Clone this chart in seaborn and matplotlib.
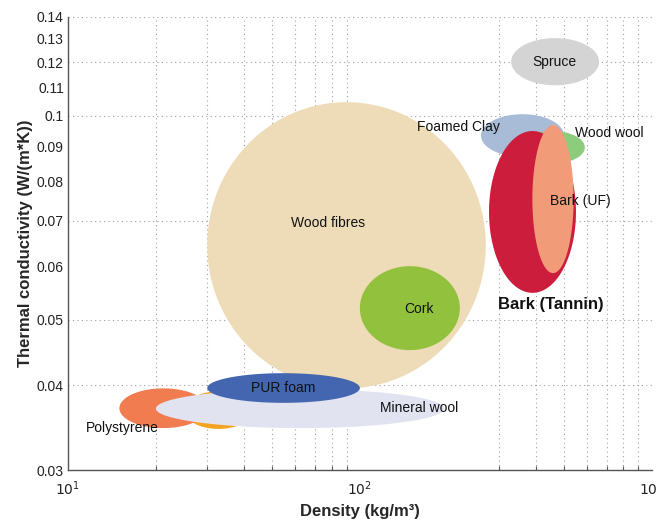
import numpy as np
import pandas as pd
import matplotlib
matplotlib.use("Agg")
import matplotlib.pyplot as plt
from matplotlib.ticker import FixedLocator, NullFormatter
import seaborn as sns

# Material property ranges: density (kg/m^3) and thermal conductivity (W/(m*K))
materials = ["Wood fibres", "Cork", "Spruce", "Foamed Clay", "Wood wool",
             "Bark (Tannin)", "Bark (UF)", "Hemp", "Polystyrene",
             "Mineral wool", "PUR foam"]
density_min = [30, 100, 330, 260, 350, 277, 390, 25, 15, 20, 30]
density_max = [270, 220, 660, 500, 590, 550, 540, 43, 30, 195, 100]
conduct_min = [0.0396, 0.0451, 0.111, 0.087, 0.085, 0.0548, 0.0586, 0.0345, 0.0346, 0.0346, 0.0377]
conduct_max = [0.1048, 0.0600, 0.1303, 0.1006, 0.095, 0.095, 0.097, 0.0392, 0.0396, 0.0395, 0.0417]
colors = ["#eedcb8", "#92c13e", "#d4d4d4", "#a8bcd8", "#8dcc7d",
          "#cc1e3c", "#f19b78", "#f5a320", "#f07c4f", "#e1e3f1", "#4465b0"]

# Label text and anchor positions (data coordinates)
label_text = ["Wood fibres", "Cork", "Spruce", "Foamed Clay", "Wood wool",
              "Bark (UF)", "Bark (Tannin)", "PUR foam", "Mineral wool", "Polystyrene"]
label_x = [77.7, 159, 465, 218, 713, 571, 451, 54.5, 159, 15.3]
label_y = [0.0695, 0.0519, 0.120, 0.0963, 0.0944, 0.0749, 0.0527, 0.0396, 0.0370, 0.0346]

y_ticks = [0.03, 0.04, 0.05, 0.06, 0.07, 0.08, 0.09, 0.10, 0.11, 0.12, 0.13, 0.14]
y_grid = [0.04, 0.05, 0.07, 0.10, 0.12, 0.14]
x_minor = [20, 30, 40, 50, 60, 70, 80, 90, 300, 400, 500, 600, 700, 800, 900]

sns.set_theme(style="white")
plt.rcParams["font.family"] = ["Liberation Sans", "DejaVu Sans"]

fig = plt.figure(figsize=(6.57, 5.23), dpi=100)
ax = fig.add_axes([0.1035, 0.1013, 0.8885, 0.8662])
ax.set_xscale("log")
ax.set_yscale("log")
ax.set_xlim(10, 1000)
ax.set_ylim(0.03, 0.14)

# Dotted reference grid
for xv in x_minor:
    ax.axvline(xv, color="#a0a0a0", lw=0.8, ls=(0, (1, 3)), zorder=0)
for yv in y_grid:
    ax.axhline(yv, color="#a0a0a0", lw=0.8, ls=(0, (1, 3)), zorder=0)

# Ellipses drawn in log-log space spanning each material's range
t = np.linspace(0, 2 * np.pi, 400)
rows = []
for name, dmin, dmax, kmin, kmax in zip(materials, density_min, density_max,
                                        conduct_min, conduct_max):
    cx = (np.log10(dmin) + np.log10(dmax)) / 2
    cy = (np.log10(kmin) + np.log10(kmax)) / 2
    a = (np.log10(dmax) - np.log10(dmin)) / 2
    b = (np.log10(kmax) - np.log10(kmin)) / 2
    rows.append(pd.DataFrame({"material": name,
                              "density": 10 ** (cx + a * np.cos(t)),
                              "conductivity": 10 ** (cy + b * np.sin(t))}))
outlines = pd.concat(rows, ignore_index=True)

for i, (name, col) in enumerate(zip(materials, colors)):
    d = outlines[outlines["material"] == name]
    ax.fill(d["density"], d["conductivity"], color=col, lw=0, zorder=2 + i)

for txt, lx, ly in zip(label_text, label_x, label_y):
    bold = txt == "Bark (Tannin)"
    ax.text(lx, ly, txt, ha="center", va="center", zorder=30,
            fontsize=12 if bold else 10, fontweight="bold" if bold else "normal",
            color="#111111")

# Axes styling
sns.despine(ax=ax)
for s in ["left", "bottom"]:
    ax.spines[s].set_color("#555555")
    ax.spines[s].set_linewidth(1.0)
ax.set_yticks(y_ticks)
ax.set_yticklabels([f"{v:g}" for v in y_ticks])
ax.yaxis.set_minor_locator(FixedLocator([]))
ax.set_xticks([10, 100, 1000])
ax.set_xticklabels([r"$10^1$", r"$10^2$", r"$10^3$"])
ax.xaxis.set_minor_locator(FixedLocator(x_minor))
ax.xaxis.set_minor_formatter(NullFormatter())
ax.tick_params(axis="both", which="major", direction="in", length=4, width=0.8,
               color="#555555", labelsize=10, labelcolor="#222222", pad=7)
ax.tick_params(axis="x", which="minor", direction="in", length=3, width=0.8,
               color="#555555", bottom=True)
ax.tick_params(axis="y", which="major", pad=3)

ax.set_xlabel("Density (kg/m³)", fontsize=12, fontweight="bold", labelpad=4)
ax.set_ylabel("Thermal conductivity (W/(m*K))", fontsize=12, fontweight="bold", labelpad=3)

fig.savefig("out.png", dpi=100)
